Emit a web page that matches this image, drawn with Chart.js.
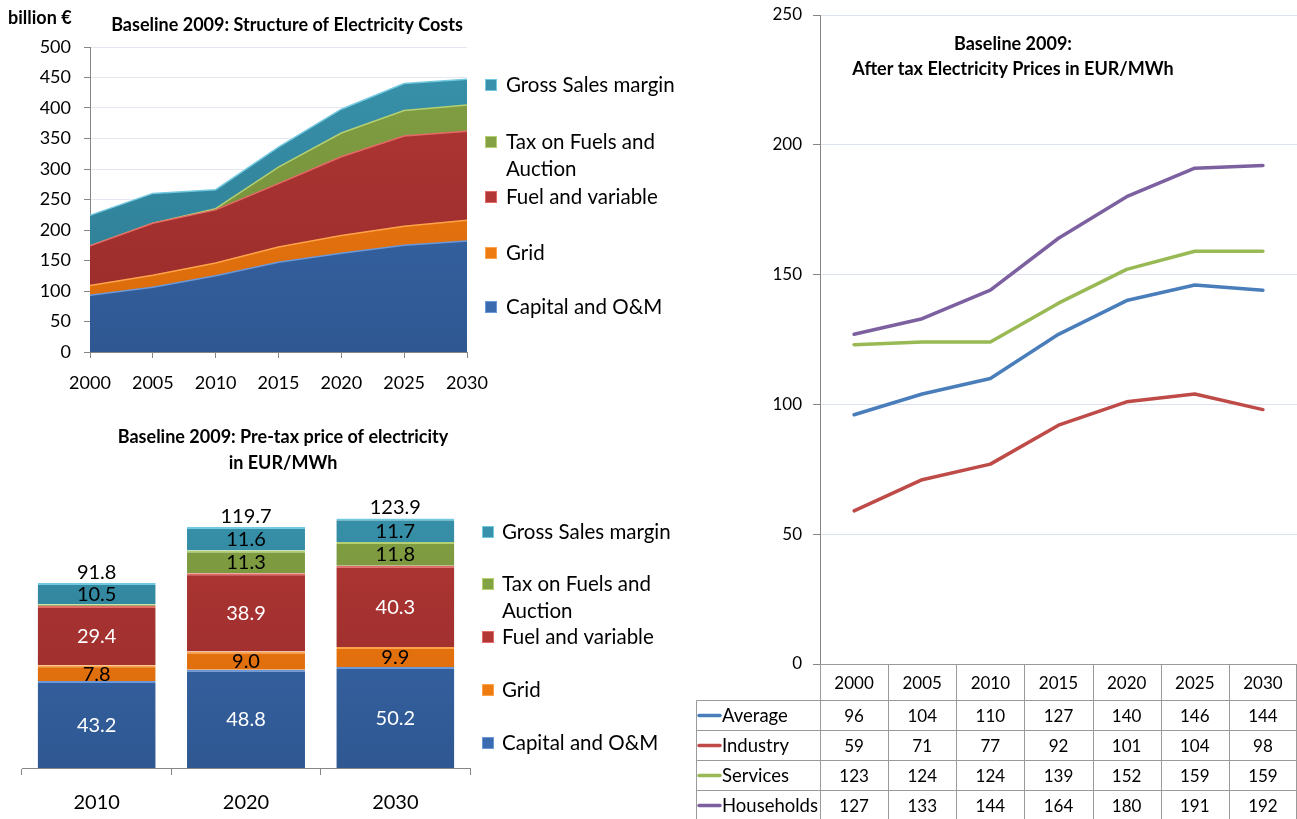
<!DOCTYPE html>
<html><head><meta charset="utf-8">
<script src="https://cdn.jsdelivr.net/npm/chart.js@4.4.1/dist/chart.umd.min.js"></script>
<style>
html,body{margin:0;padding:0;background:#fff;width:1297px;height:819px;overflow:hidden;}
canvas{position:absolute;display:block;}
#c1{left:0;top:0;}
#c2{left:0;top:410px;}
#c3{left:690px;top:0;}
</style></head><body>
<canvas id="c1" width="690" height="410"></canvas>
<canvas id="c2" width="690" height="409"></canvas>
<canvas id="c3" width="607" height="819"></canvas>
<script>
// ---------- DATA ----------
const costYears = ['2000','2005','2010','2015','2020','2025','2030'];
const costCapital = [93,106,125,147,162,175,182];
const costGrid    = [16,20,21,25,29,31,34];
const costFuel    = [65,85,87,104,129,148,146];
const costTax     = [0,0,2,27,39,42,43];
const costGross   = [50,49,31,33,39,44,42];
const costTicks   = [0,50,100,150,200,250,300,350,400,450,500];

const priceYears   = ['2010','2020','2030'];
const priceCapital = [43.2,48.8,50.2];
const priceGrid    = [7.8,9.0,9.9];
const priceFuel    = [29.4,38.9,40.3];
const priceTax     = [0.9,11.3,11.8];
const priceGross   = [10.5,11.6,11.7];
const priceTotal   = [91.8,119.7,123.9];

const taxYears      = ['2000','2005','2010','2015','2020','2025','2030'];
const avgPrice      = [96,104,110,127,140,146,144];
const industryPrice = [59,71,77,92,101,104,98];
const servicesPrice = [123,124,124,139,152,159,159];
const householdPrice= [127,133,144,164,180,191,192];

const seriesNames = ['Capital and O&M','Grid','Fuel and variable','Tax on Fuels and Auction','Gross Sales margin'];
const lineNames = ['Average','Industry','Services','Households'];

// ---------- STYLE ----------
const FONT = 'Lato, "Open Sans", sans-serif';
Chart.defaults.font.family = FONT;
Chart.defaults.color = '#000';
const fillCols  = ['#3A6BAF','#EE7A12','#B23836','#84A144','#3892AB'];
const darkCols  = ['#2F5892','#D9690A','#962B29','#6E8937','#2C7A90'];
const edgeCols  = ['#6A98D8','#FFA34A','#E46A66','#B5D072','#72C9E0'];
const lineCols  = ['#4A7EBB','#BE4B48','#98B954','#7D60A0'];
const labelCols = ['#fff','#000','#fff','#000','#000'];

function vGrad(i){
  return (c)=>{
    const a=c.chart.chartArea; if(!a) return fillCols[i];
    const g=c.chart.ctx.createLinearGradient(0,a.top,0,a.bottom);
    g.addColorStop(0,fillCols[i]); g.addColorStop(1,darkCols[i]); return g;
  };
}
function wrapText(ctx, text, maxW){
  const words = text.split(' '); const lines=[]; let cur='';
  words.forEach(w=>{
    const t = cur ? cur+' '+w : w;
    if (ctx.measureText(t).width > maxW && cur){ lines.push(cur); cur=w; } else cur=t;
  });
  if(cur) lines.push(cur);
  return lines;
}
function legendPlugin(sqX, txtX, ys){
  return { id:'customLegend', afterDraw(chart){
    const ctx = chart.ctx; ctx.save();
    ctx.font = '20.5px '+FONT; ctx.textBaseline='middle'; ctx.textAlign='left';
    const ds = chart.data.datasets.slice().reverse();
    ds.forEach((d,k)=>{
      const y0 = ys[k];
      ctx.fillStyle = d.swatch; ctx.fillRect(sqX, y0-6, 12, 12);
      ctx.strokeStyle = d.swatchEdge; ctx.lineWidth=1; ctx.strokeRect(sqX+0.5, y0-5.5, 11, 11);
      ctx.fillStyle='#000';
      wrapText(ctx, d.label, 190).forEach((ln,m)=>ctx.fillText(ln, txtX, y0+m*27));
    });
    ctx.restore();
  }};
}
function titlePlugin(lines, cx, ys, extra){
  return { id:'customTitle', afterDraw(chart){
    const ctx=chart.ctx; ctx.save();
    ctx.font='bold 18px '+FONT; ctx.fillStyle='#000'; ctx.textAlign='center'; ctx.textBaseline='middle';
    lines.forEach((l,i)=>ctx.fillText(l, cx, ys[i]));
    if(extra) extra(ctx);
    ctx.restore();
  }};
}

// ---------- CHART 1: stacked area ----------
const costSeries = [costCapital,costGrid,costFuel,costTax,costGross];
new Chart(document.getElementById('c1'), {
  type:'line',
  data:{ labels:costYears, datasets: costSeries.map((arr,i)=>({
    label:seriesNames[i], data:arr, fill: i===0?'origin':'-1',
    backgroundColor:vGrad(i), borderColor:edgeCols[i], borderWidth:1.5,
    swatch:fillCols[i], swatchEdge:edgeCols[i],
    pointRadius:0, tension:0 })) },
  options:{
    responsive:false, animation:false,
    layout:{padding:{top:47,right:223,bottom:0,left:0}},
    plugins:{legend:{display:false},tooltip:{enabled:false}},
    scales:{
      x:{ offset:false,
        grid:{display:true,drawOnChartArea:false,tickLength:6,tickColor:'#868686'},
        border:{color:'#868686'},
        ticks:{font:{size:18},padding:14,maxRotation:0,autoSkip:false},
        afterFit:s=>{s.height=58;} },
      y:{ stacked:true, min:0, max:500,
        afterBuildTicks:s=>{s.ticks=costTicks.map(v=>({value:v}));},
        grid:{color:'#E3E8F0',tickLength:6,tickColor:'#868686'},
        border:{color:'#868686'},
        ticks:{font:{size:18},padding:13},
        afterFit:s=>{s.width=90;} }
    }
  },
  plugins:[ legendPlugin(485,506,[85,142,197,253,307]),
    titlePlugin(['Baseline 2009: Structure of Electricity Costs'],287,[25],ctx=>{
      ctx.textAlign='left'; ctx.fillText('billion €', 8, 18);
    }) ]
});

// ---------- CHART 2: stacked bars ----------
const priceSeries = [priceCapital,priceGrid,priceFuel,priceTax,priceGross];
new Chart(document.getElementById('c2'), {
  type:'bar',
  data:{ labels:priceYears, datasets: priceSeries.map((arr,i)=>({
    label:seriesNames[i], data:arr, backgroundColor:vGrad(i),
    borderColor:edgeCols[i], borderWidth:{top:2,left:0,right:0,bottom:0}, borderSkipped:false,
    swatch:fillCols[i], swatchEdge:edgeCols[i], labelColor:labelCols[i],
    categoryPercentage:1, barPercentage:0.79 })) },
  options:{
    responsive:false, animation:false,
    layout:{padding:{top:76,right:220,bottom:0,left:22}},
    plugins:{legend:{display:false},tooltip:{enabled:false}},
    scales:{
      x:{ stacked:true,
        grid:{display:true,offset:true,drawOnChartArea:false,tickLength:7,tickColor:'#868686'},
        border:{color:'#868686'},
        ticks:{font:{size:20},padding:16},
        afterFit:s=>{s.height=51;} },
      y:{ stacked:true, display:false, min:0, max:140 }
    }
  },
  plugins:[ legendPlugin(482,502,[122,174,227,280,333]),
    titlePlugin(['Baseline 2009: Pre-tax price of electricity','in EUR/MWh'],283,[27,53]),
    { id:'barLabels', afterDatasetsDraw(chart){
      const ctx=chart.ctx; ctx.save();
      ctx.font='20px '+FONT; ctx.textAlign='center'; ctx.textBaseline='middle';
      chart.data.datasets.forEach((ds,i)=>{
        chart.getDatasetMeta(i).data.forEach((bar,j)=>{
          const v=ds.data[j]; if(v<2) return;
          ctx.fillStyle=ds.labelColor;
          ctx.fillText(v.toFixed(1), bar.x, (bar.y+bar.base)/2+1);
        });
      });
      const last = chart.getDatasetMeta(chart.data.datasets.length-1);
      ctx.fillStyle='#000';
      last.data.forEach((bar,j)=>ctx.fillText(priceTotal[j].toFixed(1), bar.x, bar.y-11));
      ctx.restore();
    }} ]
});

// ---------- CHART 3: lines + data table ----------
const lineSeries=[avgPrice,industryPrice,servicesPrice,householdPrice];
new Chart(document.getElementById('c3'), {
  type:'line',
  data:{ labels:taxYears, datasets: lineSeries.map((arr,i)=>({
    label:lineNames[i], data:arr, borderColor:lineCols[i], borderWidth:3.5,
    pointRadius:0, tension:0, fill:false, borderCapStyle:'round', borderJoinStyle:'round' })) },
  options:{
    responsive:false, animation:false,
    layout:{padding:{top:15,right:0,bottom:155,left:0}},
    plugins:{legend:{display:false},tooltip:{enabled:false}},
    scales:{
      x:{ display:false, offset:true },
      y:{ min:0, max:250,
        ticks:{stepSize:50,font:{size:17},padding:11},
        grid:{color:'#DCE3EE',tickLength:7,tickColor:'#868686'},
        border:{color:'#868686'},
        afterFit:s=>{s.width=130; s.paddingTop=0; s.paddingBottom=0;} }
    }
  },
  plugins:[ titlePlugin(['Baseline 2009:','After tax Electricity Prices in EUR/MWh'],323,[44,69]),
    { id:'dataTable', afterDraw(chart){
      const ctx=chart.ctx, a=chart.chartArea, xs=chart.scales.x;
      const n=taxYears.length, colW=(a.right-a.left)/n;
      const top=Math.round(a.bottom)+0.5, headH=36, rowH=30, labL=6.5, H=chart.height;
      ctx.save(); ctx.strokeStyle='#9A9A9A'; ctx.lineWidth=1;
      ctx.beginPath();
      ctx.moveTo(a.left, top); ctx.lineTo(a.right, top);
      for(let r=0;r<4;r++){ const y=top+headH+r*rowH; ctx.moveTo(labL,y); ctx.lineTo(a.right,y); }
      for(let c=0;c<=n;c++){ const x=Math.round(a.left+c*colW)+(c===n?-0.5:0.5); ctx.moveTo(x,top); ctx.lineTo(x,H); }
      ctx.moveTo(labL, top+headH); ctx.lineTo(labL, H);
      ctx.stroke();
      ctx.font='17px '+FONT; ctx.fillStyle='#000'; ctx.textAlign='center'; ctx.textBaseline='middle';
      taxYears.forEach((y,i)=>ctx.fillText(y, xs.getPixelForValue(i), top+headH/2+1));
      lineSeries.forEach((arr,r)=>{
        const cy=top+headH+r*rowH+rowH/2+1;
        ctx.font='17px '+FONT; ctx.textAlign='center'; ctx.fillStyle='#000';
        arr.forEach((v,i)=>ctx.fillText(String(v), xs.getPixelForValue(i), cy));
        ctx.strokeStyle=lineCols[r]; ctx.lineWidth=3.5; ctx.lineCap='round';
        ctx.beginPath(); ctx.moveTo(9,cy-1); ctx.lineTo(30,cy-1); ctx.stroke();
        ctx.font='18.5px '+FONT; ctx.textAlign='left'; ctx.fillText(lineNames[r], 32, cy);
      });
      ctx.restore();
    }} ]
});
</script>
</body></html>
